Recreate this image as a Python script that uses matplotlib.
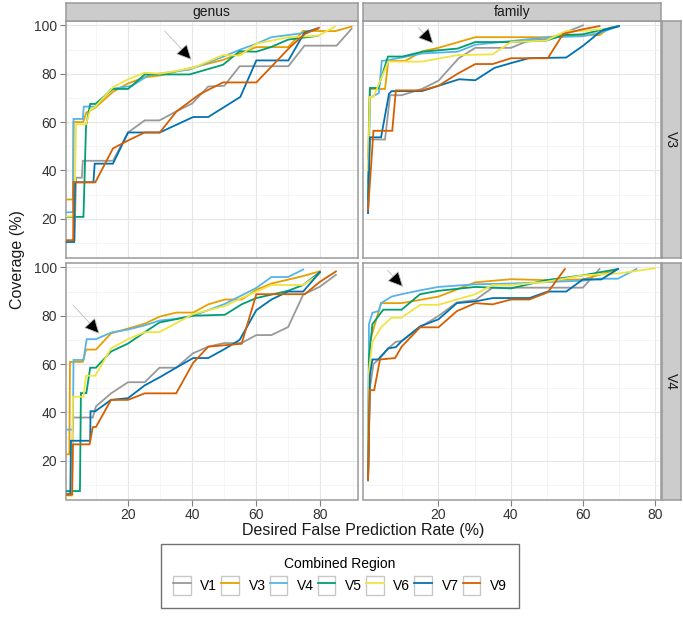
import matplotlib
matplotlib.use("Agg")
import matplotlib.pyplot as plt
from matplotlib.legend_handler import HandlerLine2D
from matplotlib.lines import Line2D
from matplotlib.patches import Rectangle

plt.rcParams['font.family'] = ['Liberation Sans', 'DejaVu Sans']

# Regionen und Farben
regions = ['V1', 'V3', 'V4', 'V5', 'V6', 'V7', 'V9']
colors = ['#999999', '#E69F00', '#56B4E9', '#009E73', '#F0E442', '#0072B2', '#D55E00']
col_labels = ['genus', 'family']
row_labels = ['V3', 'V4']

# genus / V3  (x = desired false prediction rate, y = coverage)
g3_V1 = [(0.7, 11.1), (3.3, 11.1), (3.8, 37), (5.6, 37), (5.9, 44), (15.3, 44), (20, 55.7), (25.2, 60.7),
         (29.8, 60.7), (35, 64.4), (40, 67.7), (45, 74.7), (50, 75), (54.8, 83.1), (70, 83.1), (75, 91.6),
         (85, 91.6), (89.7, 98.6)]
g3_V3 = [(0.7, 28), (2.8, 28), (3.0, 60), (6.0, 60), (7.0, 64), (9.8, 66), (15.3, 72.5), (20, 76), (25.2, 78.5),
         (30, 79.3), (40, 82.5), (49.6, 85.7), (60, 91), (69.9, 91), (74.6, 97.7), (84.5, 97.6), (89.7, 99.5)]
g3_V4 = [(0.7, 22.7), (2.9, 22.7), (3.0, 61.3), (5.9, 61.3), (6.2, 66.4), (9.8, 66.4), (14.7, 73.7), (21.3, 75),
         (26.5, 79.5), (39.2, 81.7), (49.6, 87), (55, 90), (60, 92.4), (64.7, 95.1), (74.6, 96.8), (78.8, 98.7)]
g3_V5 = [(0.7, 20.8), (6.1, 20.8), (6.9, 58.4), (8.2, 67.5), (9.8, 67.5), (15.3, 73.7), (20, 73.7), (25.2, 79.7),
         (39.2, 79.7), (49.6, 83.7), (54.8, 89.3), (60, 89.1), (64.7, 91.1), (69.9, 94.1), (79.3, 95.7)]
g3_V6 = [(0.7, 21), (3.3, 21), (3.8, 59.1), (6.9, 59.1), (8.2, 65), (9.8, 66.4), (15.3, 74.4), (20, 77.7),
         (25.2, 80.4), (29.9, 80), (40.3, 82.4), (49.6, 87.7), (54.8, 87.5), (60, 92.4), (69.9, 95.1),
         (79.3, 95.7), (84.5, 99.5)]
g3_V7 = [(0.7, 10.4), (3.2, 10.4), (3.5, 35.1), (9.2, 35.1), (9.6, 42.8), (15.3, 42.8), (20, 55.7), (29.9, 55.7),
         (40.3, 62.1), (45, 62.1), (55, 70.4), (60, 85.5), (70, 85.5), (75, 97), (79.3, 98.7)]
g3_V9 = [(0.7, 11.1), (2.9, 11.1), (3.0, 35.1), (9.8, 35.1), (15.3, 49.1), (20, 52.4), (25.2, 55.7), (29.9, 55.7),
         (35.1, 64.4), (42.3, 71.5), (49.6, 76.4), (60, 76.4), (70.5, 91), (75.1, 96.4), (79.5, 99)]

# family / V3
f3_V1 = [(0.5, 35), (1.0, 52.8), (5.2, 52.8), (6.6, 71.1), (9.8, 71.1), (15.4, 73.7), (20, 77.1), (25.6, 86.4),
         (30.2, 90.7), (40.1, 90.7), (45, 93.7), (50.3, 94.4), (55, 97), (60, 100)]
f3_V3 = [(0.5, 45), (1.0, 73.7), (5.2, 73.7), (6.1, 85.3), (10.8, 85.3), (15.6, 89.3), (20, 90.7), (30.2, 95.1),
         (49.8, 95.1), (54.9, 95.7), (64.6, 96), (67.4, 99), (70, 99.7)]
f3_V4 = [(0.5, 22.4), (1.0, 70), (3.5, 72), (4.3, 85.3), (6.3, 85.7), (15.6, 88.4), (25.3, 89.1), (30.2, 92),
         (40.1, 93.5), (49.8, 95), (60, 95.5), (65.1, 97.1), (70, 99.7)]
f3_V5 = [(0.5, 28), (1.0, 74.1), (3.3, 74.1), (6.0, 87.1), (10, 87.1), (15.6, 89.1), (25.3, 90.4), (30.2, 93.1),
         (40.1, 93.1), (49.8, 93.7), (54.9, 96), (60, 96.3), (65.1, 98.1), (70, 99.7)]
f3_V6 = [(0.5, 40), (1.0, 70.4), (2.0, 70.4), (6.1, 85), (15.4, 85), (25.3, 87.7), (35, 88), (40.1, 93.1),
         (49.8, 93.7), (55.4, 97.7), (60, 97.7), (65.1, 98.4)]
f3_V7 = [(0.5, 22.4), (1.0, 53.7), (4.1, 53.7), (6.3, 71.7), (7.0, 72.8), (15.4, 72.8), (20, 75), (25.7, 77.7),
         (30.2, 77.3), (35.5, 82.4), (40.1, 84.4), (45, 86.4), (55.4, 86.7), (60, 91.5), (65.1, 97.7), (70, 99.7)]
f3_V9 = [(0.5, 23.7), (2.0, 56.4), (7.2, 56.4), (8.2, 73.1), (15.4, 73.1), (20, 75), (25.3, 80), (30.2, 84),
         (35, 84), (40.1, 86.4), (50.3, 86.4), (54.5, 96.4), (60, 98.4), (64.6, 99.7)]

# genus / V4
g4_V1 = [(0.7, 6.5), (2.5, 6.5), (2.8, 37.9), (9, 37.9), (10, 42.5), (14.7, 47.9), (20, 52.5), (25.2, 52.5),
         (29.8, 58.5), (35, 58.5), (40.3, 64.5), (45, 67.2), (50, 68.7), (55.4, 68.7), (60, 72), (64.7, 72),
         (69.9, 75.3), (74.6, 88.7), (79.8, 92), (84.8, 96.9)]
g4_V3 = [(0.7, 22.7), (1.7, 22.7), (1.9, 60.9), (5.9, 60.9), (6.9, 66), (10, 66), (14.7, 72.7), (20, 74.7),
         (25.2, 76.7), (29.8, 79.6), (35, 81.3), (40.3, 81.3), (45, 84.7), (50.2, 86.7), (55.4, 86.7), (60, 90.7),
         (64.7, 93.3), (74.6, 96.4), (79.8, 98.4)]
g4_V4 = [(1.2, 32.9), (2.8, 32.9), (3.0, 61.7), (6.1, 61.7), (7.1, 70.3), (10, 70.3), (14.7, 73), (20, 74.3),
         (25.2, 76), (29.8, 78), (35, 78.7), (40.3, 80), (45, 82.3), (50.2, 84.9), (54.8, 88), (60, 91.5),
         (64.7, 96), (69.9, 96), (74.6, 99.1)]
g4_V5 = [(0.7, 7.5), (5.0, 7.5), (5.3, 48), (7.0, 48), (8.2, 58.5), (10, 58.5), (14.7, 65.2), (20, 68.5),
         (25.2, 73.2), (29.8, 77.2), (40.3, 80), (50.2, 80.4), (55.4, 84.7), (60, 87.3), (69.9, 90.3),
         (74.6, 92.7), (79.8, 98)]
g4_V6 = [(0.7, 5.5), (2.5, 5.5), (2.8, 46.5), (6.1, 46.5), (6.9, 55.2), (9.8, 55.2), (14.7, 66.5), (20, 70.3),
         (25.2, 73.2), (29.8, 73.2), (40.3, 80.7), (50.2, 84), (55.4, 87.3), (64.7, 92.7), (74.6, 92.7),
         (79.8, 97.3)]
g4_V7 = [(0.7, 6), (2.0, 6), (2.2, 28.3), (8.2, 28.3), (8.3, 40.5), (9.8, 40.5), (14.7, 45.2), (20, 45.9),
         (25.2, 51.2), (29.8, 54.5), (35, 58.5), (40.3, 62.5), (45, 62.5), (50.2, 66.3), (54.8, 70), (60, 82.3),
         (64.7, 86.7), (69.9, 90), (74.6, 90), (79.8, 98)]
g4_V9 = [(0.7, 6), (2.6, 6), (2.8, 26.8), (8, 26.8), (9, 33.9), (10, 34), (14.7, 45.2), (20, 45.2), (25.2, 47.9),
         (35, 47.9), (40.3, 60.5), (45, 67.2), (55.4, 68.4), (60, 88.9), (75.1, 88.9), (79.8, 94), (84.8, 98.3)]

# family / V4
f4_V1 = [(0.5, 12), (1.0, 50), (2.0, 60), (3.8, 62.5), (6.1, 66.5), (8.2, 69.2), (9.8, 69.5), (14.9, 75.2),
         (20, 79.9), (25.1, 85.5), (30.2, 86.5), (35, 91.6), (60, 91.6), (64.6, 99.3)]
f4_V3 = [(0.5, 12), (1.0, 69.2), (2.4, 76.5), (4.1, 85.2), (9.8, 85.2), (20, 87.9), (30.2, 93.8), (40.1, 95.1),
         (49.8, 94.7), (60, 95), (64.6, 96.9), (69.7, 99.3)]
f4_V4 = [(0.5, 12), (0.75, 76.5), (1.7, 81.2), (3.5, 82), (4.1, 85.2), (7, 87.9), (9.8, 88.9), (14.9, 90.5),
         (20, 91.9), (30.2, 93), (40.1, 93.3), (60, 94.5), (64.6, 95.3), (69.7, 95.3), (74.8, 99.3)]
f4_V5 = [(0.5, 12), (0.75, 62.5), (1.7, 76.5), (4.7, 82.5), (9.8, 82.5), (14.9, 88.9), (20, 90.3), (30.2, 91.9),
         (40.1, 91.3), (49.8, 94.7), (60, 96.7), (69.7, 99.3)]
f4_V6 = [(0.5, 12), (0.75, 57.2), (1.7, 69.2), (4.1, 75.2), (7, 79.2), (9.8, 79.2), (14.9, 84.5), (20, 84.5),
         (30.2, 88.9), (35, 92.7), (40.1, 92.7), (49.8, 94), (60, 96.7), (70, 97.5), (79.9, 99.6)]
f4_V7 = [(0.5, 12), (1.0, 55.2), (1.7, 61.9), (3.3, 61.9), (6.1, 66.5), (8.2, 67), (9.8, 69.5), (14.9, 75.6),
         (20, 78.5), (25.1, 85.2), (30.2, 85.9), (35, 87.3), (45.2, 87.3), (50.3, 90), (55.4, 90), (60, 95),
         (65.1, 95), (69.7, 99.3)]
f4_V9 = [(0.5, 12), (1.0, 49.2), (2.2, 49.2), (3.8, 61.9), (8, 62.5), (9.8, 67.2), (14.9, 75.2), (20, 75.2),
         (25.1, 81.9), (30.2, 85.2), (35, 84.7), (40.1, 86.7), (45.2, 86.7), (50.3, 89.7), (55, 99.3)]

# Pfeile (start, spitze) je Panel
arrow_g3 = [(31.4, 97.7), (39.8, 85.7)]
arrow_f3 = [(14.4, 99.1), (18.6, 92.4)]
arrow_g4 = [(2.8, 84.5), (11.1, 72.5)]
arrow_f4 = [(5.9, 98.8), (10.2, 91.9)]

panels = {
    (0, 0): ([g3_V1, g3_V3, g3_V4, g3_V5, g3_V6, g3_V7, g3_V9], arrow_g3),
    (0, 1): ([f3_V1, f3_V3, f3_V4, f3_V5, f3_V6, f3_V7, f3_V9], arrow_f3),
    (1, 0): ([g4_V1, g4_V3, g4_V4, g4_V5, g4_V6, g4_V7, g4_V9], arrow_g4),
    (1, 1): ([f4_V1, f4_V3, f4_V4, f4_V5, f4_V6, f4_V7, f4_V9], arrow_f4),
}

xlims = [(0.5, 91.6), (-0.9, 81.5)]
ylims = (4.0, 101.8)

W, H = 683, 626
col_x = [(65.5, 357.7), (363.0, 660.5)]
row_y = [(21.0, 257.5), (263.0, 499.5)]

BORDER = '#9A9A9A'
STRIP = '#CCCCCC'
TXT = '#1A1A1A'


class KeyBoxHandler(HandlerLine2D):
    """Legendeneintrag mit Kasten um die Linie (ggplot-Stil)"""
    def create_artists(self, legend, orig_handle, xdescent, ydescent, width, height, fontsize, trans):
        box = Rectangle((-xdescent, -ydescent), width, height, facecolor='white',
                        edgecolor='#C8C8C8', linewidth=1.0, transform=trans)
        arts = super().create_artists(legend, orig_handle, xdescent, ydescent, width, height, fontsize, trans)
        return [box] + list(arts)


def main() -> None:
    fig = plt.figure(figsize=(W / 100, H / 100), dpi=100)

    for (r, c), (series, arrow) in panels.items():
        x0, x1 = col_x[c]
        y0, y1 = row_y[r]
        ax = fig.add_axes([x0 / W, 1 - y1 / H, (x1 - x0) / W, (y1 - y0) / H])
        ax.set_facecolor('white')

        for pts, col, name in zip(series, colors, regions):
            xs = [p[0] for p in pts]
            ys = [p[1] for p in pts]
            ax.plot(xs, ys, color=col, lw=1.3, label=name, solid_joinstyle='miter', zorder=3)

        # Pfeil: graue Linie, schwarze Spitze
        ax.annotate('', xy=arrow[1], xytext=arrow[0],
                    arrowprops=dict(arrowstyle='-|>,head_length=0.65,head_width=0.32',
                                    facecolor='black', edgecolor='#BDBDBD', lw=0.6,
                                    mutation_scale=15, shrinkA=0, shrinkB=0), zorder=4)

        ax.set_xticks([20, 40, 60, 80])
        ax.set_yticks([20, 40, 60, 80, 100])
        ax.set_xticks([10, 30, 50, 70, 90], minor=True)
        ax.set_yticks([10, 30, 50, 70, 90], minor=True)
        # Grenzen erst nach den Ticks setzen
        ax.set_xlim(*xlims[c])
        ax.set_ylim(*ylims)
        ax.grid(which='major', color='#E6E6E6', lw=0.8, zorder=0)
        ax.grid(which='minor', color='#F2F2F2', lw=0.5, zorder=0)
        ax.set_axisbelow(True)
        ax.tick_params(which='minor', length=0)
        ax.tick_params(which='major', length=4, width=0.8, color='#7F7F7F',
                       labelsize=10, labelcolor='#333333', pad=2)
        if r == 0:
            ax.tick_params(axis='x', which='major', length=0, labelbottom=False)
        if c == 1:
            ax.tick_params(axis='y', which='major', length=0, labelleft=False)
        for sp in ax.spines.values():
            sp.set_color(BORDER)
            sp.set_linewidth(1.1)

    # Streifen oben
    for c, lab in enumerate(col_labels):
        x0, x1 = col_x[c]
        sax = fig.add_axes([x0 / W, 1 - 21.0 / H, (x1 - x0) / W, 18.0 / H])
        sax.set_facecolor(STRIP)
        sax.set_xticks([])
        sax.set_yticks([])
        for sp in sax.spines.values():
            sp.set_color(BORDER)
            sp.set_linewidth(1.1)
        sax.text(0.5, 0.48, lab, ha='center', va='center', fontsize=10, color=TXT, transform=sax.transAxes)

    # Streifen rechts
    for r, lab in enumerate(row_labels):
        y0, y1 = row_y[r]
        sax = fig.add_axes([662 / W, 1 - y1 / H, 18.5 / W, (y1 - y0) / H])
        sax.set_facecolor(STRIP)
        sax.set_xticks([])
        sax.set_yticks([])
        for sp in sax.spines.values():
            sp.set_color(BORDER)
            sp.set_linewidth(1.1)
        sax.text(0.5, 0.5, lab, ha='center', va='center', fontsize=10, color=TXT, rotation=-90,
                 transform=sax.transAxes)

    fig.text(18 / W, 1 - 260 / H, 'Coverage (%)', rotation=90, ha='center', va='center',
             fontsize=11.5, color=TXT)
    fig.text(363 / W, 1 - 531 / H, 'Desired False Prediction Rate (%)', ha='center', va='center',
             fontsize=11.5, color=TXT)

    handles = [Line2D([], [], color=col, lw=1.3) for col in colors]
    leg = fig.legend(handles, regions, title='Combined Region', loc='center',
                     bbox_to_anchor=(340 / W, 1 - 576 / H), ncol=7, fontsize=10, title_fontsize=10,
                     handlelength=1.25, handleheight=1.7, handletextpad=0.7, columnspacing=0.3,
                     borderpad=0.9, labelspacing=0.4, frameon=True, fancybox=False,
                     handler_map={Line2D: KeyBoxHandler()})
    leg.get_frame().set_edgecolor('#4D4D4D')
    leg.get_frame().set_linewidth(1.0)

    fig.savefig('out.png', dpi=100, facecolor='white')


if __name__ == '__main__':
    main()
